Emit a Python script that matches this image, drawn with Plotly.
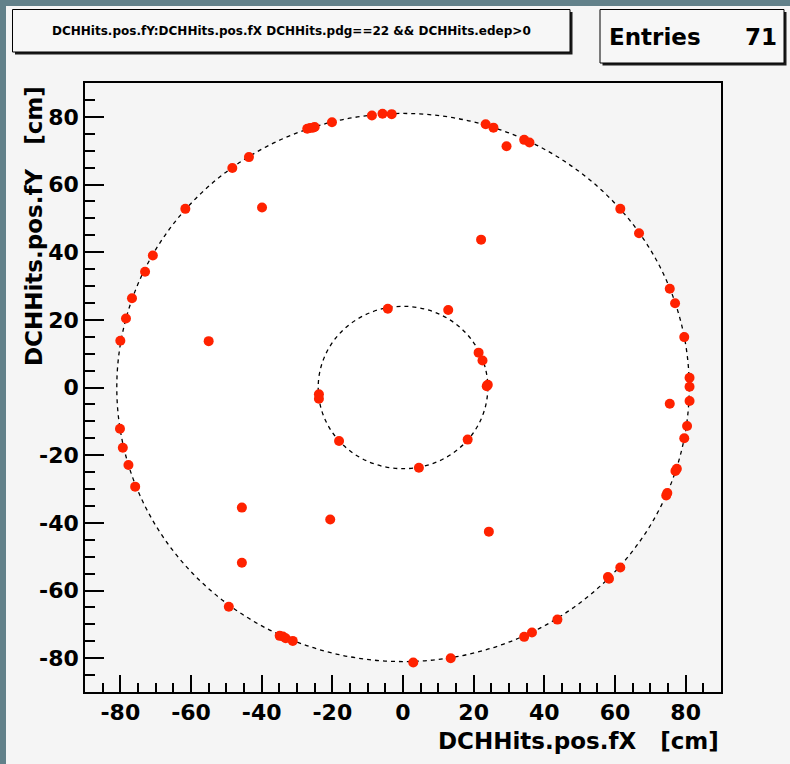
import plotly.graph_objects as go

# ---- data ----
HIT_X = [-80.0, -78.4, -76.7, -73.0, -70.8, -61.6, -48.3, -43.6, -39.9, -55.0,
         -27.1, -26.3, -25.5, -25.0, -20.1, -8.8, -5.8, -3.2, -4.3, -23.8,
         -23.8, 23.4, 25.6, 29.3, 34.3, 35.8, 61.5, 66.8, 75.5, 77.0,
         79.6, 81.1, 81.1, 22.1, 12.8, 21.4, 22.5, 23.7, 24.0, 81.1,
         75.5, 80.4, 79.6, 77.5, 77.1, 74.5, 74.8, 61.5, 58.3, 58.0,
         43.7, 36.5, 34.3, 13.5, 2.9, 24.3, 18.3, 4.5, -80.1, -79.3,
         -77.7, -75.8, -45.6, -45.6, -20.6, -18.1, -49.3, -34.9, -34.0, -33.2,
         -31.2]
HIT_Y = [13.8, 20.4, 26.4, 34.2, 39.0, 52.8, 64.9, 68.1, 53.2, 13.7,
         76.5, 76.7, 76.8, 77.0, 78.4, 80.4, 80.9, 80.8, 23.3, -2.0,
         -3.3, 77.8, 76.8, 71.3, 73.2, 72.4, 52.8, 45.6, 29.2, 24.9,
         14.9, 2.9, 0.2, 43.7, 22.9, 10.3, 8.0, 0.4, 0.8, -4.0,
         -4.8, -11.4, -15.0, -24.0, -24.7, -31.9, -31.2, -53.2, -56.5, -56.0,
         -68.6, -72.4, -73.7, -80.0, -81.3, -42.6, -15.4, -23.7, -12.2, -17.8,
         -22.9, -29.3, -35.5, -51.8, -39.0, -15.8, -64.8, -73.4, -73.6, -74.1,
         -74.9]
CIRCLE_RADII = [81.0, 24.0]
TICK_VALUES = [-80, -60, -40, -20, 0, 20, 40, 60, 80]
TICK_LABELS = ["-80", "-60", "-40", "-20", "0", "20", "40", "60", "80"]
AXIS_RANGE = [-90, 90]
TITLE_TEXT = "DCHHits.pos.fY:DCHHits.pos.fX DCHHits.pdg==22 && DCHHits.edep>0"
X_TITLE = "DCHHits.pos.fX   [cm]"
Y_TITLE = "DCHHits.pos.fY   [cm]"
ENTRIES = len(HIT_X)

# ---- layout geometry (pixels) ----
W, H = 790, 764
PL, PR, PT, PB = 85, 721, 83, 692


def px_x(p):
    return (p - PL) / (PR - PL)


def px_y(p):
    return (PB - p) / (PB - PT)


FONT = "DejaVu Sans"

fig = go.Figure()
fig.add_trace(go.Scatter(
    x=HIT_X, y=HIT_Y, mode="markers",
    marker=dict(color="#ff2200", size=10, line=dict(width=0)),
    hoverinfo="skip", showlegend=False,
))

shapes = []
# canvas (light) over the teal desktop border
shapes.append(dict(type="rect", xref="paper", yref="paper",
                   x0=px_x(6), x1=px_x(W + 20), y0=px_y(H + 20), y1=px_y(6),
                   fillcolor="#f5f5f5", line=dict(width=0), layer="below"))
# circles
for i, r in enumerate(CIRCLE_RADII):
    shapes.append(dict(type="circle", xref="x", yref="y",
                       x0=-r, x1=r, y0=-r, y1=r,
                       fillcolor="white" if i == 0 else "rgba(0,0,0,0)",
                       line=dict(color="black", width=1.3, dash="4px,4px"),
                       layer="below"))


def box(x0, y0, x1, y1):
    out = [dict(type="rect", xref="paper", yref="paper",
                x0=px_x(x0 + 2.5), x1=px_x(x1 + 2.5), y0=px_y(y1 + 2.5), y1=px_y(y0 + 2.5),
                fillcolor="#1a1a1a", line=dict(width=0), layer="above"),
           dict(type="rect", xref="paper", yref="paper",
                x0=px_x(x0), x1=px_x(x1), y0=px_y(y1), y1=px_y(y0),
                fillcolor="#f7f7f7", line=dict(color="black", width=1), layer="above")]
    return out


shapes += box(12.5, 9.5, 570, 52)
shapes += box(600, 9.5, 784, 63)

annotations = [
    dict(text=TITLE_TEXT, xref="paper", yref="paper", x=px_x(291), y=px_y(31),
         xanchor="center", yanchor="middle", showarrow=False,
         font=dict(family=FONT, size=12, color="black", weight="bold")),
    dict(text="Entries", xref="paper", yref="paper", x=px_x(607), y=px_y(37),
         xanchor="left", yanchor="middle", showarrow=False,
         font=dict(family=FONT, size=23, color="black", weight="bold")),
    dict(text=str(ENTRIES), xref="paper", yref="paper", x=px_x(779), y=px_y(37),
         xanchor="right", yanchor="middle", showarrow=False,
         font=dict(family=FONT, size=23, color="black", weight="bold")),
    dict(text=X_TITLE, xref="paper", yref="paper", x=px_x(721), y=px_y(741),
         xanchor="right", yanchor="middle", showarrow=False,
         font=dict(family=FONT, size=23, color="black", weight="bold")),
    dict(text=Y_TITLE, xref="paper", yref="paper", x=px_x(34), y=px_y(84),
         xanchor="center", yanchor="top", showarrow=False, textangle=-90,
         font=dict(family=FONT, size=23, color="black", weight="bold")),
]

axis_common = dict(
    range=AXIS_RANGE, tickmode="array", tickvals=TICK_VALUES, ticktext=TICK_LABELS,
    ticks="inside", tickwidth=1.5, tickcolor="black",
    showline=True, linecolor="black", linewidth=1.5, mirror=True,
    showgrid=False, zeroline=False,
    tickfont=dict(family=FONT, size=22, color="black", weight="bold"),
    minor=dict(tickmode="linear", tick0=0, dtick=5, ticks="inside",
               tickwidth=1.5, tickcolor="black", showgrid=False),
)

fig.update_layout(
    width=W, height=H,
    margin=dict(l=PL, r=W - PR, t=PT, b=H - PB, autoexpand=False),
    paper_bgcolor="#62818a", plot_bgcolor="rgba(0,0,0,0)",
    shapes=shapes, annotations=annotations,
    xaxis=dict(axis_common, ticklen=17),
    yaxis=dict(axis_common, ticklen=19),
)
fig.layout.xaxis.minor.ticklen = 9
fig.layout.yaxis.minor.ticklen = 10

fig.write_html("out.html")
